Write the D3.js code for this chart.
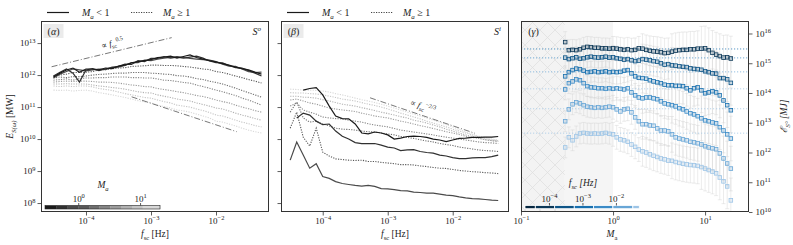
<!DOCTYPE html>
<html><head><meta charset="utf-8">
<script src="https://cdn.jsdelivr.net/npm/d3@7/dist/d3.min.js"></script>
<style>
html,body{margin:0;padding:0;background:#fff;}
svg{display:block;}
</style></head>
<body>
<svg id="chart" width="793" height="245"></svg>
<script>
// ---------------- DATA ----------------
// spacecraft-frame frequencies [Hz] (shared grid of panels alpha and beta)
const fsc = [3.16e-5,3.98e-5,5.01e-5,6.31e-5,7.94e-5,1.0e-4,1.26e-4,1.58e-4,2.0e-4,2.51e-4,3.16e-4,3.98e-4,5.01e-4,6.31e-4,7.94e-4,1.0e-3,1.26e-3,1.58e-3,2.0e-3,2.51e-3,3.16e-3,3.98e-3,5.01e-3,6.31e-3,7.94e-3,1.0e-2,1.26e-2,1.58e-2,2.0e-2,2.51e-2,3.16e-2,3.98e-2,5.01e-2];

// log10 of E [MW], panel alpha (S^o), one array per M_a bin (0..2: M_a<1, 3..9: M_a>=1)
const alphaBin0 = [11.94,12.06,12.16,12.22,12.09,12.19,12.19,12.16,12.22,12.20,12.28,12.31,12.38,12.42,12.45,12.48,12.55,12.56,12.59,12.53,12.58,12.63,12.55,12.50,12.45,12.41,12.36,12.31,12.25,12.20,12.16,12.09,12.03];
const alphaBin1 = [11.97,12.09,12.19,12.06,11.78,12.16,12.20,12.14,12.19,12.23,12.27,12.34,12.33,12.45,12.42,12.52,12.52,12.58,12.53,12.56,12.53,12.56,12.59,12.53,12.44,12.39,12.38,12.30,12.23,12.22,12.14,12.06,11.97];
const alphaBin2 = [11.91,12.03,12.11,12.19,12.16,12.13,12.16,12.19,12.17,12.25,12.25,12.30,12.39,12.39,12.47,12.45,12.50,12.53,12.55,12.58,12.55,12.52,12.50,12.48,12.47,12.42,12.34,12.28,12.27,12.19,12.11,12.08,12.09];
const alphaBin3 = [11.97,12.00,12.03,12.08,12.08,12.09,12.11,12.16,12.17,12.20,12.22,12.23,12.27,12.28,12.29,12.31,12.31,12.30,12.30,12.29,12.27,12.25,12.22,12.19,12.17,12.11,12.08,12.03,11.97,11.92,11.86,11.81,11.75];
const alphaBin4 = [11.91,11.94,11.92,11.95,11.95,11.97,12.00,12.02,12.03,12.05,12.06,12.06,12.08,12.08,12.08,12.06,12.05,12.03,12.02,11.98,11.97,11.94,11.89,11.86,11.81,11.77,11.72,11.66,11.59,11.52,11.45,11.38,11.31];
const alphaBin5 = [11.84,11.86,11.88,11.84,11.89,11.91,11.91,11.92,11.92,11.94,11.94,11.94,11.92,11.92,11.91,11.91,11.88,11.84,11.83,11.80,11.77,11.75,11.69,11.64,11.59,11.53,11.48,11.42,11.36,11.28,11.22,11.14,11.06];
const alphaBin6 = [11.78,11.80,11.81,11.80,11.81,11.81,11.80,11.78,11.78,11.77,11.75,11.72,11.69,11.67,11.64,11.63,11.58,11.55,11.52,11.48,11.45,11.41,11.36,11.33,11.28,11.22,11.17,11.13,11.06,11.00,10.95,10.89,10.84];
const alphaBin7 = [11.72,11.72,11.73,11.72,11.72,11.72,11.69,11.66,11.64,11.61,11.59,11.56,11.52,11.48,11.45,11.44,11.38,11.34,11.30,11.25,11.22,11.19,11.13,11.08,11.03,10.97,10.94,10.88,10.81,10.75,10.70,10.64,10.59];
const alphaBin8 = [11.66,11.64,11.66,11.64,11.66,11.66,11.63,11.58,11.55,11.52,11.47,11.42,11.38,11.34,11.30,11.28,11.22,11.17,11.13,11.06,11.03,11.00,10.94,10.89,10.83,10.75,10.72,10.66,10.59,10.53,10.48,10.42,10.38];
const alphaBin9 = [11.53,11.52,11.53,11.50,11.52,11.53,11.50,11.45,11.42,11.38,11.34,11.30,11.25,11.20,11.16,11.13,11.06,11.02,10.97,10.91,10.88,10.84,10.78,10.72,10.66,10.56,10.53,10.47,10.41,10.34,10.28,10.23,10.19];

// log10 of E [MW], panel beta (S^i)
const betaBin0 = [null,null,11.53,11.58,11.61,11.38,11.03,10.72,10.64,10.63,10.47,10.19,10.16,10.22,10.19,10.13,10.00,10.03,10.08,10.09,10.08,10.05,10.00,9.97,9.92,9.97,10.02,10.03,10.05,10.05,10.06,10.06,10.08];
const betaBin1 = [null,10.66,10.81,10.75,10.56,10.45,10.47,10.25,10.09,10.00,9.89,9.86,9.86,9.86,9.81,9.75,9.72,9.64,9.66,9.67,9.61,9.58,9.56,9.50,9.47,9.42,9.39,9.39,9.41,9.42,9.42,9.45,9.50];
const betaBin2 = [9.34,9.91,9.50,9.09,9.23,8.83,8.77,8.67,8.61,8.58,8.55,8.53,8.55,8.52,8.45,8.44,8.42,8.39,8.38,8.34,8.33,8.31,8.31,8.28,8.25,8.23,8.19,8.16,8.14,8.13,8.11,8.09,8.08];
const betaBin3 = [10.34,10.84,10.06,9.78,10.34,9.59,9.47,9.38,9.36,9.34,9.33,9.34,9.30,9.30,9.27,9.25,9.23,9.20,9.20,9.19,9.16,9.14,9.11,9.09,9.08,9.05,9.02,9.00,8.98,8.97,8.95,8.94,8.92];
const betaBin4 = [10.84,11.16,10.66,10.53,10.56,10.47,10.41,10.34,10.31,10.30,10.28,10.25,10.23,10.22,10.19,10.16,10.13,10.08,10.05,10.02,9.98,9.94,9.91,9.86,9.83,9.80,9.75,9.72,9.69,9.66,9.64,9.63,9.61];
const betaBin5 = [11.03,11.13,10.91,10.84,10.78,10.69,10.66,10.64,10.63,10.59,10.56,10.53,10.48,10.44,10.41,10.38,10.33,10.28,10.25,10.22,10.19,10.16,10.13,10.09,10.06,10.03,10.00,9.97,9.94,9.91,9.89,9.88,9.86];
const betaBin6 = [11.22,11.25,11.19,11.13,11.09,11.03,10.97,10.94,10.91,10.89,10.86,10.81,10.77,10.72,10.69,10.66,10.61,10.56,10.52,10.47,10.42,10.38,10.33,10.28,10.23,10.19,10.14,10.09,10.05,10.02,9.98,9.95,9.92];
const betaBin7 = [11.34,11.34,11.31,11.30,11.28,11.23,11.19,11.14,11.09,11.06,11.03,10.98,10.94,10.89,10.84,10.80,10.75,10.70,10.66,10.59,10.55,10.50,10.44,10.38,10.31,10.25,10.19,10.13,10.08,10.03,9.98,9.95,9.94];
const betaBin8 = [11.45,11.44,11.44,11.42,11.41,11.38,11.34,11.30,11.25,11.22,11.19,11.14,11.09,11.05,11.00,10.94,10.88,10.81,10.75,10.69,10.63,10.56,10.50,10.44,10.38,10.31,10.25,10.19,10.13,10.06,10.02,9.98,9.95];
const betaBin9 = [11.56,11.55,11.53,11.53,11.52,11.50,11.47,11.42,11.38,11.33,11.28,11.23,11.19,11.14,11.09,11.03,10.97,10.91,10.84,10.78,10.72,10.66,10.59,10.53,10.45,10.38,10.30,10.22,10.16,10.09,10.05,10.00,9.97];

// M_a bin edges of the grey colour bar
const maEdges = [0.29,0.44,0.66,1,1.5,2.2,3.3,5,7.4,11,21];

// reference power laws: [f0, f1, log10E0, log10E1]
const refAlphaUp   = [2.96e-5, 2.08e-3, 12.26, 13.17];
const refAlphaDown = [5.04e-4, 2.08e-2, 11.32, 10.23];
const refBetaDown  = [5.35e-4, 2.20e-2, 11.29, 10.18];

// panel gamma: M_a bins and log10 of E [MJ], one array per f_sc bin
const gammaMa = [0.302,0.331,0.363,0.398,0.437,0.479,0.525,0.575,0.631,0.692,0.759,0.832,0.912,1.0,1.096,1.202,1.318,1.445,1.585,1.738,1.905,2.089,2.291,2.512,2.754,3.020,3.311,3.631,3.981,4.365,4.786,5.248,5.754,6.310,6.918,7.586,8.318,9.120,10.0,10.96,12.02,13.18,14.45,15.85,17.38,19.05];
const gammaF1 = [15.71,15.44,15.45,15.44,15.47,15.52,15.55,15.54,15.52,15.52,15.50,15.50,15.49,15.50,15.49,15.47,15.45,15.47,15.44,15.45,15.50,15.49,15.45,15.42,15.40,15.39,15.37,15.34,15.35,15.39,15.42,15.44,15.45,15.45,15.47,15.47,15.49,15.49,15.50,15.44,15.35,15.29,15.24,15.19,15.20,15.16];
const gammaF2 = [15.19,15.14,15.17,15.20,15.15,15.17,15.20,15.22,15.20,15.19,15.20,15.22,15.19,15.20,15.17,15.15,15.12,15.14,15.10,15.07,15.09,15.14,15.12,15.10,15.07,15.05,15.00,14.95,14.97,14.93,14.92,14.90,14.88,14.87,14.83,14.81,14.80,14.78,14.73,14.70,14.66,14.65,14.50,14.50,14.46,14.34];
const gammaF3 = [14.56,14.70,14.77,14.82,14.80,14.75,14.70,14.71,14.73,14.70,14.71,14.73,14.70,14.71,14.70,14.71,14.75,14.77,14.66,14.56,14.51,14.50,14.48,14.43,14.39,14.36,14.33,14.28,14.26,14.26,14.24,14.24,14.23,14.16,14.09,14.16,14.19,14.09,13.99,14.02,14.06,14.02,13.92,13.75,13.59,13.42];
const gammaF4 = [14.12,14.33,14.39,14.46,14.43,14.33,14.23,14.19,14.18,14.16,14.16,14.14,14.16,14.14,14.16,14.14,14.12,14.16,14.02,13.92,13.85,13.82,13.85,13.85,13.82,13.79,13.72,13.65,13.62,13.59,13.55,13.49,13.45,13.38,13.32,13.28,13.22,13.15,13.08,13.05,13.01,12.98,12.85,12.74,12.61,12.47];
const gammaF5 = [13.05,13.45,13.62,13.69,13.65,13.59,13.54,13.52,13.50,13.52,13.50,13.52,13.54,13.52,13.45,13.38,13.45,13.47,13.35,13.18,13.05,12.95,12.95,12.91,12.90,12.81,12.74,12.74,12.71,12.61,12.51,12.47,12.44,12.41,12.36,12.34,12.31,12.27,12.21,12.17,12.14,12.11,11.97,11.80,11.63,11.46];
const gammaF6 = [12.17,12.51,12.41,12.54,12.64,12.66,12.64,12.63,12.64,12.63,12.64,12.66,12.63,12.61,12.51,12.44,12.41,12.36,12.27,12.19,12.10,12.04,12.00,11.94,11.89,11.85,11.80,11.77,11.73,11.72,11.68,11.65,11.62,11.60,11.58,11.57,11.55,11.51,11.46,11.41,11.36,11.30,11.16,11.03,10.86,10.39];
// half length of the error bars [decades], per M_a bin
const gammaErr = [0.35,0.35,0.35,0.35,0.35,0.35,0.35,0.35,0.35,0.35,0.35,0.35,0.35,0.4,0.4,0.4,0.4,0.4,0.4,0.4,0.4,0.5,0.5,0.5,0.5,0.5,0.5,0.5,0.5,0.6,0.6,0.6,0.6,0.6,0.6,0.6,0.6,0.75,0.75,0.75,0.75,0.75,0.75,0.75,0.75,0.75];
// sub-Alfvenic mean level per f_sc bin (log10 E)
const gammaMean = [15.48,15.18,14.71,14.14,13.47,12.65];
// f_sc bin edges of the blue colour bar
const fEdges = [1.92e-5,3.9e-5,1.48e-4,5.69e-4,2.16e-3,8.13e-3,3.21e-2,5.0e-2];
const maHatch = [0.1, 0.3];
const maShade = [0.3, 1.0];

// ---------------- STYLE ----------------
const greys = ["#1a1a1a","#303030","#4a4a4a","#585858","#6e6e6e","#858585","#9c9c9c","#b2b2b2","#c6c6c6","#d8d8d8"];
const blues = ["#0a3656","#0d5486","#176fae","#3a8ac6","#68a6d6","#9cc4e6"];
const cbBlues = ["#06263f","#0a3656","#0d5486","#176fae","#3a8ac6","#68a6d6","#9cc4e6"];
const SERIF = "'Liberation Serif','DejaVu Serif',serif";
const TXT = "#222";

const svg = d3.select("#chart").attr("font-family", SERIF);
const defs = svg.append("defs");

function rich(parent, x, y, parts, fs, anchor){
  const t = parent.append("text").attr("x",x).attr("y",y).attr("font-size",fs+"px")
    .attr("text-anchor",anchor||"start").attr("fill",TXT);
  let shift = 0;
  parts.forEach(p=>{
    const target = p.sub ? fs*0.3 : p.sup ? -fs*0.42 : 0;
    const ts = t.append("tspan").attr("dy", target - shift).text(p.t);
    shift = target;
    if(p.sub||p.sup) ts.attr("font-size",(fs*0.7)+"px");
    if(p.it) ts.attr("font-style","italic");
  });
  return t;
}
function pow10(t, e, fs){
  t.text(null);
  t.append("tspan").text("10");
  t.append("tspan").attr("dy", -fs*0.42).attr("font-size",(fs*0.72)+"px")
    .text(e<0 ? "\u2212"+(-e) : String(e));
}
function styleAxis(g, fs){
  g.select(".domain").remove();
  g.selectAll(".tick line").attr("stroke","#333").attr("stroke-width",0.8);
  g.selectAll(".tick text").attr("font-family",SERIF).attr("font-size",fs+"px").attr("fill",TXT)
    .each(function(d){ pow10(d3.select(this), Math.round(Math.log10(d)), fs); });
}

const yE = d3.scaleLog().domain([10**7.72, 10**13.69]).range([212,21]);
const xA = d3.scaleLog().domain([10**-4.692, 10**-1.185]).range([41,269]);
const xB = d3.scaleLog().domain([10**-4.642, 10**-1.134]).range([281,509]);

function legend(x0){
  svg.append("line").attr("x1",x0).attr("x2",x0+22).attr("y1",12.5).attr("y2",12.5)
    .attr("stroke","#1a1a1a").attr("stroke-width",1.2);
  rich(svg, x0+35, 16, [{t:"M",it:true},{t:"a",sub:true,it:true},{t:" < 1"}], 10);
  svg.append("line").attr("x1",x0+84).attr("x2",x0+106).attr("y1",12.5).attr("y2",12.5)
    .attr("stroke","#444").attr("stroke-width",1.1).attr("stroke-dasharray","1.2,1.3");
  rich(svg, x0+116, 16, [{t:"M",it:true},{t:"a",sub:true,it:true},{t:" \u2265 1"}], 10);
}

function linePanel(x, bins, box, tag, corner, refs){
  const g = svg.append("g");
  const clipId = "clip"+tag;
  defs.append("clipPath").attr("id",clipId).append("rect")
    .attr("x",box.l).attr("y",box.t).attr("width",box.r-box.l).attr("height",box.b-box.t);
  const lg = g.append("g").attr("clip-path",`url(#${clipId})`);
  const line = d3.line().defined(d=>d[1]!=null).x(d=>x(d[0])).y(d=>yE(10**d[1]));
  for(let i=bins.length-1;i>=0;i--){
    const pts = fsc.map((f,k)=>[f,bins[i][k]]);
    const isSub = i<3;
    lg.append("path").attr("d",line(pts)).attr("fill","none")
      .attr("stroke",greys[i]).attr("stroke-width", isSub?1.2:1.1)
      .attr("stroke-dasharray", isSub?null:"1.2,1.3");
  }
  refs.forEach(r=>{
    lg.append("line").attr("x1",x(r.v[0])).attr("x2",x(r.v[1]))
      .attr("y1",yE(10**r.v[2])).attr("y2",yE(10**r.v[3]))
      .attr("stroke","#555").attr("stroke-width",0.8).attr("stroke-dasharray","6,2,1,2");
    if(r.label){
      const t = rich(g, 0, 0, r.label, 8.5, "middle");
      t.attr("transform",`translate(${r.lx},${r.ly}) rotate(${r.rot})`);
    }
  });
  g.append("rect").attr("x",box.l+0.5).attr("y",box.t+0.5).attr("width",box.r-box.l-1).attr("height",box.b-box.t-1)
    .attr("fill","none").attr("stroke","#333").attr("stroke-width",1);
  g.append("rect").attr("x",box.l+2.5).attr("y",box.t+3).attr("width",20).attr("height",14).attr("fill","#ebebeb");
  rich(g, box.l+12.5, box.t+14, [{t:"("},{t:tag,it:true},{t:")"}], 10, "middle");
  rich(g, box.r-8, box.t+14, [{t:"S",it:true},{t:corner,sup:true,it:true}], 10, "end");
  const ax = svg.append("g").attr("transform",`translate(0,${box.b})`)
    .call(d3.axisBottom(x).tickValues([1e-4,1e-3,1e-2]).tickSize(3.5).tickPadding(2).tickFormat(()=> ""));
  styleAxis(ax, 9);
  rich(svg, (box.l+box.r)/2, 237, [{t:"f",it:true},{t:"sc",sub:true},{t:" [Hz]"}], 9.5, "middle");
  const ay = svg.append("g").attr("transform",`translate(${box.l},0)`)
    .call(d3.axisLeft(yE).tickValues([1e8,1e9,1e10,1e11,1e12,1e13]).tickSize(3.5).tickPadding(2).tickFormat(()=> ""));
  styleAxis(ay, 9);
  return {g, ay};
}

// ---- panel alpha ----
legend(47);
linePanel(xA, [alphaBin0,alphaBin1,alphaBin2,alphaBin3,alphaBin4,alphaBin5,alphaBin6,alphaBin7,alphaBin8,alphaBin9],
  {l:41,r:269,t:21,b:212}, "\u03b1", "o",
  [{v:refAlphaUp, label:[{t:"\u221d "},{t:"f",it:true},{t:"sc",sub:true},{t:"0.5",sup:true}], lx:113, ly:46, rot:-13.6},
   {v:refAlphaDown}]);
rich(svg, 0, 0, [{t:"E",it:true},{t:"S(\u03c9)",sub:true,it:true},{t:" [MW]"}], 9.5, "middle")
  .attr("transform","translate(13,116.5) rotate(-90)");

// grey M_a colour bar
const cbA = d3.scaleLog().domain([maEdges[0], maEdges[maEdges.length-1]]).range([45,160]);
const cbAg = svg.append("g");
d3.pairs(maEdges).forEach((p,i)=>{
  cbAg.append("rect").attr("x",cbA(p[0])).attr("y",205.5).attr("width",cbA(p[1])-cbA(p[0])+0.3).attr("height",3.5).attr("fill",greys[i]);
});
cbAg.append("rect").attr("x",45).attr("y",205.5).attr("width",115).attr("height",3.5).attr("fill","none").attr("stroke","#222").attr("stroke-width",0.6);
const cbAax = cbAg.append("g").attr("transform","translate(0,205.5)")
  .call(d3.axisTop(cbA).tickValues([1,10]).tickSize(2.5).tickPadding(1.5).tickFormat(()=> ""));
styleAxis(cbAax, 9);
rich(svg, 103, 188, [{t:"M",it:true},{t:"a",sub:true,it:true}], 9.5, "middle");

// ---- panel beta ----
legend(287);
const pb = linePanel(xB, [betaBin0,betaBin1,betaBin2,betaBin3,betaBin4,betaBin5,betaBin6,betaBin7,betaBin8,betaBin9],
  {l:281,r:509,t:21,b:212}, "\u03b2", "i",
  [{v:refBetaDown, label:[{t:"\u221d "},{t:"f",it:true},{t:"sc",sub:true},{t:"\u22122/3",sup:true}], lx:422, ly:109, rot:18.7}]);
pb.ay.selectAll(".tick text").remove();

// ---- panel gamma ----
const xG = d3.scaleLog().domain([0.1, 30]).range([521,749]);
const yG = d3.scaleLog().domain([1e10, 10**16.42]).range([212,21]);
const gg = svg.append("g");
const pat = defs.append("pattern").attr("id","hatch").attr("patternUnits","userSpaceOnUse").attr("width",15).attr("height",15);
pat.append("rect").attr("width",15).attr("height",15).attr("fill","#f3f3f3");
pat.append("path").attr("d","M0,0L15,15M15,0L0,15M-1,14L1,16M14,-1L16,1").attr("stroke","#e0e0e0").attr("stroke-width",0.8);
gg.append("rect").attr("x",xG(maHatch[0])).attr("y",21).attr("width",xG(maHatch[1])-xG(maHatch[0])).attr("height",191).attr("fill","url(#hatch)");
gg.append("rect").attr("x",xG(maShade[0])).attr("y",21).attr("width",xG(maShade[1])-xG(maShade[0])).attr("height",191).attr("fill","#f5f5f5");
defs.append("clipPath").attr("id","clipG").append("rect").attr("x",521).attr("y",21).attr("width",228).attr("height",191);
const gc = gg.append("g").attr("clip-path","url(#clipG)");
const gammaSeries = [gammaF1,gammaF2,gammaF3,gammaF4,gammaF5,gammaF6];
gammaSeries.forEach(s=>{
  s.forEach((v,i)=>{
    const xx = xG(gammaMa[i]), e = gammaErr[i];
    const y1 = yG(10**(v+e)), y2 = yG(10**(v-e));
    gc.append("path").attr("d",`M${xx},${y1}V${y2}M${xx-2},${y1}H${xx+2}M${xx-2},${y2}H${xx+2}`)
      .attr("stroke","#d2d2d2").attr("stroke-width",0.7).attr("fill","none").attr("opacity",0.6);
  });
});
gammaMean.forEach((m,i)=>{
  gc.append("line").attr("x1",521).attr("x2",749).attr("y1",yG(10**m)).attr("y2",yG(10**m))
    .attr("stroke",blues[Math.min(i+2,5)]).attr("stroke-width",1).attr("stroke-dasharray","1.2,1.8").attr("opacity",0.7);
});
gammaSeries.forEach((s,si)=>{
  s.forEach((v,i)=>{
    gc.append("rect").attr("x",xG(gammaMa[i])-1.8).attr("y",yG(10**v)-1.8).attr("width",3.6).attr("height",3.6)
      .attr("fill",blues[si]).attr("fill-opacity",0.2).attr("stroke",blues[si]).attr("stroke-width",0.8);
  });
});
gg.append("rect").attr("x",521.5).attr("y",21.5).attr("width",227).attr("height",190)
  .attr("fill","none").attr("stroke","#333").attr("stroke-width",1);
rich(gg, 533.5, 35, [{t:"("},{t:"\u03b3",it:true},{t:")"}], 10, "middle");
const gxa = svg.append("g").attr("transform","translate(0,212)")
  .call(d3.axisBottom(xG).tickValues([0.1,1,10]).tickSize(3.5).tickPadding(2).tickFormat(()=> ""));
styleAxis(gxa, 9);
rich(svg, 612, 237, [{t:"M",it:true},{t:"a",sub:true}], 9.5, "middle");
const gya = svg.append("g").attr("transform","translate(749,0)")
  .call(d3.axisRight(yG).tickValues([1e10,1e11,1e12,1e13,1e14,1e15,1e16]).tickSize(3.5).tickPadding(3).tickFormat(()=> ""));
styleAxis(gya, 9);
rich(svg, 0, 0, [{t:"\u2130",it:true},{t:"S\u00b0",sub:true,it:true},{t:" [MJ]",it:true}], 9.5, "middle")
  .attr("transform","translate(787,116.5) rotate(-90)");

// blue f_sc colour bar
const cbG = d3.scaleLog().domain([fEdges[0], fEdges[fEdges.length-1]]).range([525,639.3]);
d3.pairs(fEdges).forEach((p,i)=>{
  svg.append("rect").attr("x",cbG(p[0])).attr("y",205.5).attr("width",cbG(p[1])-cbG(p[0])).attr("height",3.2)
    .attr("fill",cbBlues[i]).attr("stroke","#fff").attr("stroke-width",0.8);
});
const cbGax = svg.append("g").attr("transform","translate(0,205.5)")
  .call(d3.axisTop(cbG).tickValues([1e-4,1e-3,1e-2]).tickSize(2.5).tickPadding(1.5).tickFormat(()=> ""));
styleAxis(cbGax, 9);
rich(svg, 583, 186, [{t:"f",it:true},{t:"sc",sub:true,it:true},{t:" [",it:true},{t:"Hz",it:true},{t:"]",it:true}], 9.5, "middle");
</script></body></html>
